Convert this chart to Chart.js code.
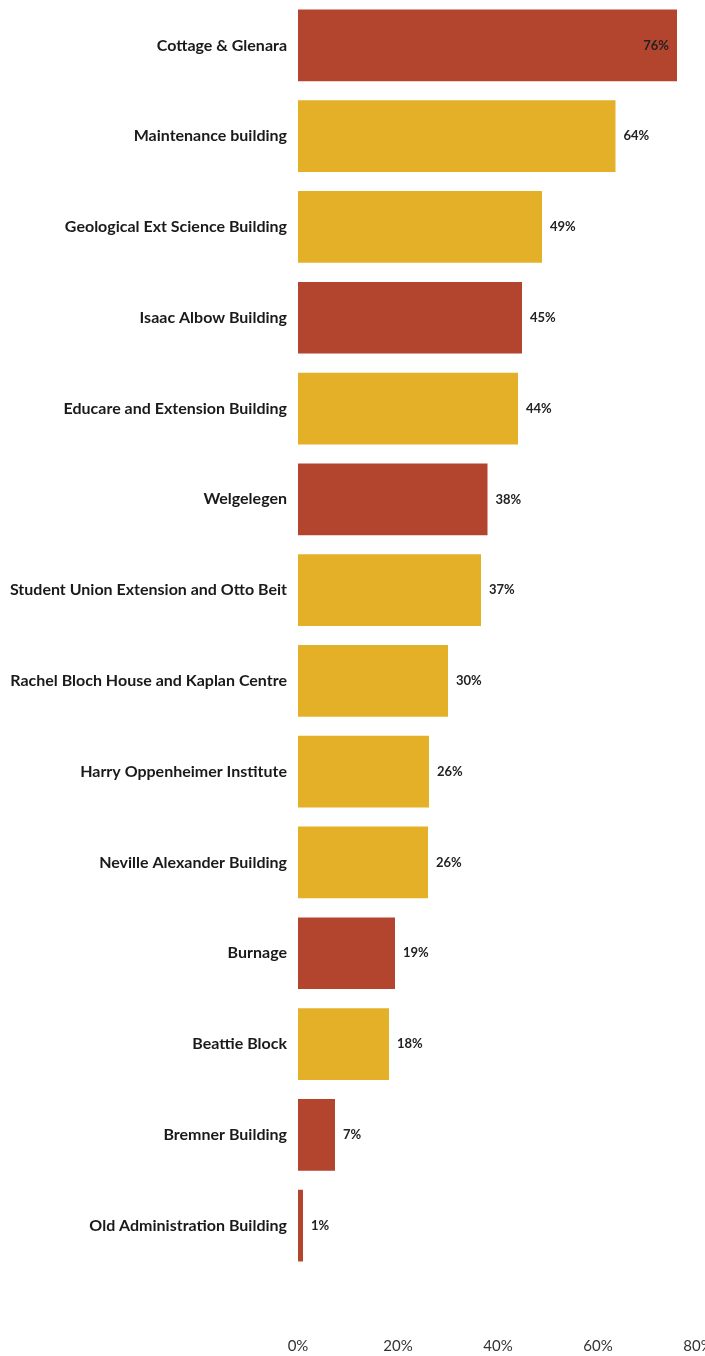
<!DOCTYPE html>
<html>
<head>
<meta charset="utf-8">
<script src="https://cdn.jsdelivr.net/npm/chart.js@4"></script>
<style>
html,body{margin:0;padding:0;background:#fff;overflow:hidden;width:705px;height:1356px;}
canvas{display:block;}
</style>
</head>
<body>
<canvas id="c" width="720" height="1356" style="width:720px;height:1356px"></canvas>
<script>
const categories = [
  "Cottage & Glenara",
  "Maintenance building",
  "Geological Ext Science Building",
  "Isaac Albow Building",
  "Educare and Extension Building",
  "Welgelegen",
  "Student Union Extension and Otto Beit",
  "Rachel Bloch House and Kaplan Centre",
  "Harry Oppenheimer Institute",
  "Neville Alexander Building",
  "Burnage",
  "Beattie Block",
  "Bremner Building",
  "Old Administration Building"
];
const values = [75.8, 63.5, 48.8, 44.8, 44.0, 37.9, 36.6, 30.0, 26.2, 26.0, 19.4, 18.2, 7.4, 1.0];
const groups = ["red","yellow","yellow","red","yellow","red","yellow","yellow","yellow","yellow","red","yellow","red","red"];
const xTicks = [0, 20, 40, 60, 80];

const palette = {red: "#B3452F", yellow: "#E3B027"};

const valueLabels = {
  id: "valueLabels",
  afterDatasetsDraw(chart) {
    const ctx = chart.ctx;
    const meta = chart.getDatasetMeta(0);
    ctx.save();
    ctx.font = "bold 13px Lato";
    ctx.fillStyle = "#222";
    ctx.textBaseline = "middle";
    meta.data.forEach((bar, i) => {
      const txt = Math.round(values[i]) + "%";
      if (values[i] > 70) {
        ctx.textAlign = "right";
        ctx.fillText(txt, bar.x - 8, bar.y);
      } else {
        ctx.textAlign = "left";
        ctx.fillText(txt, bar.x + 8, bar.y);
      }
    });
    ctx.restore();
  }
};

function zeroPad(scale) {
  scale.paddingTop = 0; scale.paddingBottom = 0;
  scale.paddingLeft = 0; scale.paddingRight = 0;
}

new Chart(document.getElementById("c"), {
  type: "bar",
  data: {
    labels: categories,
    datasets: [{
      data: values,
      backgroundColor: groups.map(g => palette[g]),
      borderWidth: 0,
      categoryPercentage: 1.0,
      barPercentage: 0.79
    }]
  },
  options: {
    indexAxis: "y",
    responsive: false,
    animation: false,
    layout: {padding: {top: 0, right: 22, bottom: 0, left: 0}},
    plugins: {legend: {display: false}, tooltip: {enabled: false}},
    scales: {
      y: {
        grid: {display: false, drawTicks: false},
        border: {display: false},
        ticks: {
          padding: 11,
          color: "#1a1a1a",
          font: {family: "Lato", weight: "bold", size: 16}
        },
        afterFit(scale) { scale.width = 298; zeroPad(scale); }
      },
      x: {
        min: 0,
        max: 80,
        grid: {display: false, drawTicks: false},
        border: {display: false},
        afterBuildTicks(scale) { scale.ticks = xTicks.map(v => ({value: v})); },
        ticks: {
          padding: 66,
          color: "#333",
          font: {family: "Lato", size: 15},
          callback: v => v + "%",
          maxRotation: 0
        },
        afterFit(scale) { scale.height = 85; zeroPad(scale); }
      }
    }
  },
  plugins: [valueLabels]
});
</script>
</body>
</html>
